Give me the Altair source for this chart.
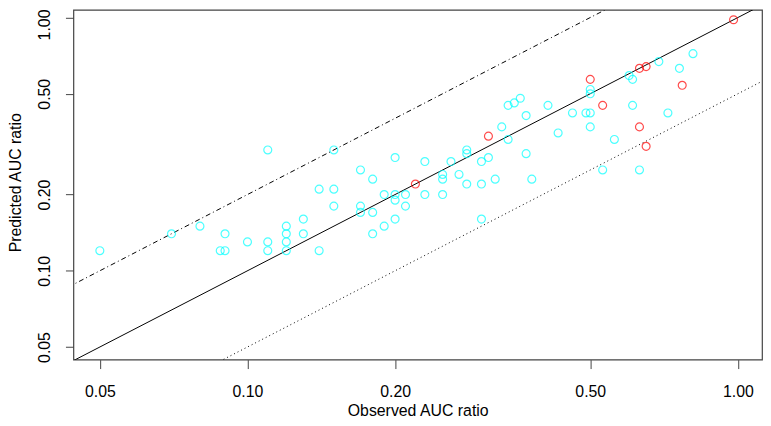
import altair as alt
import pandas as pd

# Observed vs predicted AUC ratios (cyan group)
obs_cyan = [0.05, 0.07, 0.08, 0.088, 0.09, 0.09, 0.10, 0.11, 0.11, 0.11,
            0.12, 0.12, 0.12, 0.12, 0.13, 0.13, 0.14, 0.14, 0.15, 0.15,
            0.15, 0.17, 0.17, 0.17, 0.18, 0.18, 0.18, 0.19, 0.19, 0.20,
            0.20, 0.20, 0.20, 0.21, 0.21, 0.23, 0.23, 0.25, 0.25, 0.25,
            0.26, 0.27, 0.28, 0.28, 0.28, 0.30, 0.30, 0.30, 0.31, 0.32,
            0.33, 0.34, 0.34, 0.35, 0.36, 0.37, 0.37, 0.38, 0.41, 0.43,
            0.46, 0.49, 0.50, 0.50, 0.50, 0.50, 0.53, 0.56, 0.60, 0.61,
            0.61, 0.63, 0.69, 0.72, 0.76, 0.81]
pred_cyan = [0.12, 0.14, 0.15, 0.12, 0.14, 0.12, 0.13, 0.13, 0.12, 0.30,
             0.15, 0.14, 0.13, 0.12, 0.16, 0.14, 0.21, 0.12, 0.30, 0.21,
             0.18, 0.25, 0.18, 0.17, 0.23, 0.17, 0.14, 0.20, 0.15, 0.28,
             0.20, 0.19, 0.16, 0.20, 0.18, 0.27, 0.20, 0.24, 0.23, 0.20,
             0.27, 0.24, 0.30, 0.29, 0.22, 0.27, 0.22, 0.16, 0.28, 0.23,
             0.37, 0.45, 0.33, 0.46, 0.48, 0.41, 0.29, 0.23, 0.45, 0.35,
             0.42, 0.42, 0.52, 0.50, 0.42, 0.37, 0.25, 0.33, 0.59, 0.57,
             0.45, 0.25, 0.67, 0.42, 0.63, 0.72]

# Red group
obs_red = [0.22, 0.31, 0.50, 0.53, 0.63, 0.65, 0.63, 0.65, 0.77, 0.98]
pred_red = [0.22, 0.34, 0.57, 0.45, 0.63, 0.64, 0.37, 0.31, 0.54, 0.98]

tick_vals = [0.05, 0.10, 0.20, 0.50, 1.00]
x_domain = [0.04416, 1.12]
y_domain = [0.04457, 1.072]

# reference lines: y = x, y = 2x, y = x/2
ref_x = [0.03, 1.5]
ref_factor = [1.0, 2.0, 0.5]

pts = pd.DataFrame({
    "obs": obs_cyan + obs_red,
    "pred": pred_cyan + pred_red,
    "grp": ["cyan"] * len(obs_cyan) + ["red"] * len(obs_red),
})

def ref_df(f):
    return pd.DataFrame({"obs": ref_x, "pred": [v * f for v in ref_x]})

FONT = "Liberation Sans"

xscale = alt.Scale(type="log", domain=x_domain, nice=False, zero=False)
yscale = alt.Scale(type="log", domain=y_domain, nice=False, zero=False)

xaxis = alt.Axis(values=tick_vals, format=".2f", title="Observed AUC ratio",
                 grid=False, domain=False, tickSize=9, tickColor="#444",
                 labelFont=FONT, labelFontSize=16, labelColor="#000",
                 labelPadding=15, labelFlush=False,
                 titleFont=FONT, titleFontSize=16, titleFontWeight="normal",
                 titleColor="#000", titleY=56, titleBaseline="alphabetic")
yaxis = alt.Axis(values=tick_vals, format=".2f", title="Predicted AUC ratio",
                 grid=False, domain=False, tickSize=8, tickColor="#444",
                 labelFont=FONT, labelFontSize=16, labelColor="#000",
                 labelAngle=270, labelAlign="center", labelBaseline="bottom",
                 labelPadding=13, labelFlush=False,
                 labelOffset={"condition": {"test": "datum.value >= 0.99", "value": 7},
                              "value": 0},
                 titleFont=FONT, titleFontSize=16, titleFontWeight="normal",
                 titleColor="#000", titleX=-66, titleY=174,
                 titleAngle=270, titleAlign="center", titleBaseline="top")

def line_layer(f, dash):
    kw = dict(clip=True, color="black", strokeWidth=1)
    if dash:
        kw["strokeDash"] = dash
    return alt.Chart(ref_df(f)).mark_line(**kw).encode(
        x=alt.X("obs:Q", scale=xscale, axis=xaxis),
        y=alt.Y("pred:Q", scale=yscale, axis=yaxis),
    )

lines = [line_layer(ref_factor[0], None),
         line_layer(ref_factor[1], [1, 3, 5, 3]),
         line_layer(ref_factor[2], [1, 3])]

points = alt.Chart(pts).mark_point(shape="circle", filled=False, size=64,
                                   strokeWidth=1.2, clip=True).encode(
    x=alt.X("obs:Q", scale=xscale, axis=xaxis),
    y=alt.Y("pred:Q", scale=yscale, axis=yaxis),
    color=alt.Color("grp:N", scale=alt.Scale(domain=["cyan", "red"],
                                             range=["#00FFFF", "#FF0000"]),
                    legend=None),
)

chart = alt.layer(*lines, points).properties(
    width=695, height=353,
    autosize=alt.AutoSizeParams(type="none"),
    padding={"left": 66, "top": 0, "right": 1, "bottom": 57},
).configure_view(stroke="#444", strokeWidth=1.2)

chart.save("out.html", embed_options={"renderer": "svg", "actions": False})
